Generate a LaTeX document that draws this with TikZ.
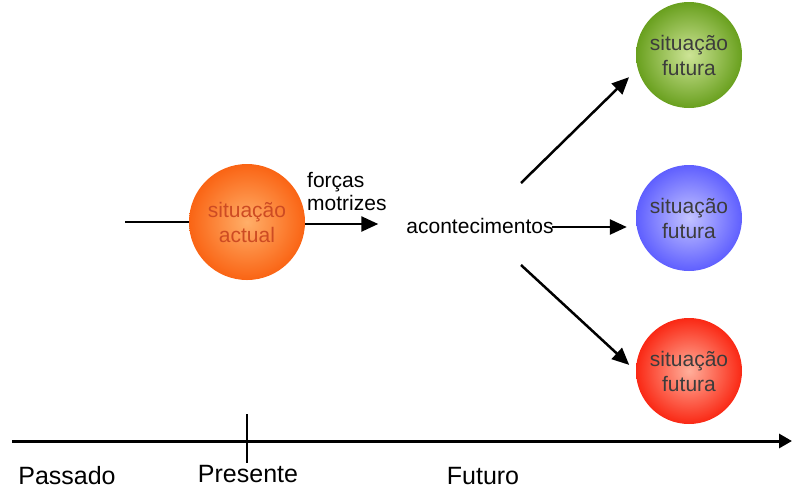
\documentclass[tikz,border=0pt]{standalone}
\usepackage{fontspec}
\setmainfont{Liberation Sans}
\usetikzlibrary{arrows.meta}
\definecolor{laranja}{RGB}{250,100,20}
\definecolor{laranjaclaro}{RGB}{255,175,105}
\definecolor{laranjatexto}{RGB}{205,75,35}
\definecolor{verde}{RGB}{105,160,30}
\definecolor{verdeclaro}{RGB}{205,228,150}
\definecolor{azul}{RGB}{95,95,255}
\definecolor{azulclaro}{RGB}{195,195,255}
\definecolor{vermelho}{RGB}{250,40,20}
\definecolor{vermelhoclaro}{RGB}{255,175,155}
\definecolor{cinza}{RGB}{60,60,60}
\begin{document}
\begin{tikzpicture}[x=1pt,y=-1pt,>={Triangle[length=17pt,width=15pt]},
	situacao/.style={circle,minimum size=106pt,inner sep=0pt,align=center,
		text=cinza,font=\fontsize{21}{25}\selectfont},
	seta/.style={->,line width=2.5pt},
	rotulo/.style={font=\fontsize{21}{23}\selectfont},
	tempo/.style={anchor=base,inner sep=0pt,font=\fontsize{25}{28}\selectfont}]
	\useasboundingbox (0,0) rectangle (792,491);
	\node[situacao,minimum size=116pt,inner color=laranjaclaro,outer color=laranja,text=laranjatexto] (actual) at (247,222) {situação\\actual};
	\node[situacao,inner color=verdeclaro,outer color=verde] (fut1) at (689,55) {situação\\futura};
	\node[situacao,inner color=azulclaro,outer color=azul] (fut2) at (689,218) {situação\\futura};
	\node[situacao,inner color=vermelhoclaro,outer color=vermelho] (fut3) at (689,371) {situação\\futura};
	\node[rotulo,inner sep=0pt] (acont) at (480,226) {acontecimentos};
	\node[rotulo,align=left,inner sep=0pt,anchor=south west] (forcas) at (307,211) {forças\\motrizes};
	\coordinate (in) at (125,222);
	\draw[line width=2.5pt] (in) -- (actual);
	\draw[seta,shorten >=28pt] (actual.east |- 0,224) -- (acont.west |- 0,224);
	\coordinate (s1) at (521,183);
	\coordinate (s2) at (552,227);
	\coordinate (s3) at (521,265);
	\draw[seta,shorten >=12pt] (s1) -- (fut1.195);
	\draw[seta,shorten >=9pt] (s2) -- (fut2.west |- s2);
	\draw[seta,shorten >=9pt] (s3) -- (fut3.west);
	% eixo do tempo
	\coordinate (t0) at (12,441);
	\coordinate (t1) at (792,441);
	\draw[->,line width=3pt,>={Triangle[length=13pt,width=14pt]}] (t0) -- (t1);
	\draw[line width=1.3pt] (247,414) -- (247,463);
	\node[tempo] (passado) at (67,484) {Passado};
	\node[tempo] (presente) at (248,482) {Presente};
	\node[tempo] (futuro) at (483,484) {Futuro};
\end{tikzpicture}
\end{document}
